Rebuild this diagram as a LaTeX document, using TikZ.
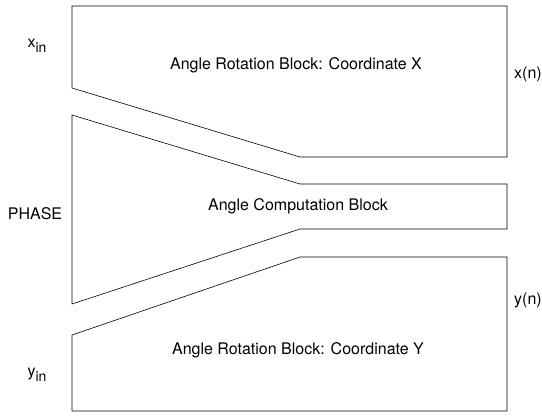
\documentclass[tikz,border=0pt]{standalone}
\usepackage{fontspec}
\setmainfont{TeX Gyre Heros}
\usetikzlibrary{positioning}

\newcommand{\subin}[1]{#1\raisebox{-.55ex}{\fontsize{14}{16}\selectfont in}}

\begin{document}
\begin{tikzpicture}[x=1pt, y=-1pt,
  blk/.style={draw, line width=0.6pt, line join=miter},
  lbl/.style={font=\fontsize{16}{19}\selectfont, inner sep=0pt}
]
  \useasboundingbox (0,0) rectangle (542,416);
  % corners of the three blocks
  \coordinate (xa) at (72,6);   \coordinate (xb) at (507,6);
  \coordinate (xc) at (507,157); \coordinate (xd) at (300,157);
  \coordinate (xe) at (72,88);
  \coordinate (pa) at (72,115);  \coordinate (pb) at (300,184);
  \coordinate (pc) at (507,184); \coordinate (pd) at (507,229);
  \coordinate (pe) at (300,229); \coordinate (pf) at (72,304);
  \coordinate (ya) at (72,335);  \coordinate (yb) at (300,257);
  \coordinate (yc) at (507,257); \coordinate (yd) at (507,411);
  \coordinate (ye) at (72,411);

  \draw[blk] (xa) -- (xb) -- (xc) -- (xd) -- (xe) -- cycle;
  \draw[blk] (pa) -- (pb) -- (pc) -- (pd) -- (pe) -- (pf) -- cycle;
  \draw[blk] (ya) -- (yb) -- (yc) -- (yd) -- (ye) -- cycle;

  \node[lbl] (rotx) at (296,65) {Angle Rotation Block: Coordinate X};
  \node[lbl] (comp) at (298,206) {Angle Computation Block};
  \node[lbl] (roty) at (298,350) {Angle Rotation Block: Coordinate Y};

  \node[lbl] (xin) at (37,46) {\subin{x}};
  \node[lbl] (phase) at (35,214) {PHASE};
  \node[lbl] (yin) at (37,375) {\subin{y}};
  \node[lbl] (xout) at (528,74) {x(n)};
  \node[lbl] (yout) at (528,300) {y(n)};
\end{tikzpicture}
\end{document}
